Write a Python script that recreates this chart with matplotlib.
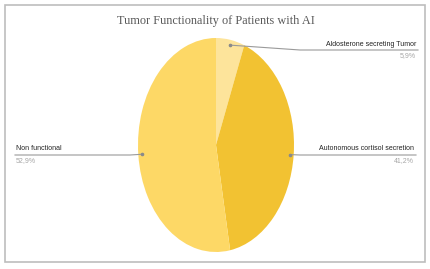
import numpy as np
import matplotlib
matplotlib.use("Agg")
import matplotlib.pyplot as plt
from matplotlib.patches import Rectangle
from matplotlib.lines import Line2D

labels = ["Aldosterone secreting Tumor", "Autonomous cortisol secretion", "Non functional"]
values = [5.9, 41.2, 52.9]
pct_labels = ["5,9%", "41,2%", "52,9%"]
colors = ["#FDE49B", "#F2C232", "#FDD866"]

W, H = 431, 269
fig = plt.figure(figsize=(W / 100, H / 100), dpi=100)

# outer frame
fig.patches.append(Rectangle((5 / W, 1 - 262 / H), 420 / W, 257 / H,
                             transform=fig.transFigure, fill=False,
                             edgecolor="#BDBDBD", linewidth=1.2))

fig.text(216 / W, 1 - 21 / H, "Tumor Functionality of Patients with AI",
         ha="center", va="center", fontsize=8.8, color="#595959",
         family=["Liberation Serif", "DejaVu Serif"])

# pie is squashed horizontally in the reference, so no equal aspect
ax = fig.add_axes([138 / W, 1 - 252 / H, 156 / W, 214 / H])
wedges, _ = ax.pie(values, colors=colors, startangle=90, counterclock=False,
                   wedgeprops=dict(linewidth=0))
ax.set_xlim(-1, 1)
ax.set_ylim(-1, 1)
ax.set_aspect("auto")

# label positions (pixels): elbow x, label y, line end x, alignment
label_pos = [
    (300, 50, 418, "right"),
    (300, 155, 416, "right"),
    (130, 155, 15, "left"),
]

to_fig = ax.transData + fig.transFigure.inverted()
lab_font = ["Liberation Sans", "DejaVu Sans"]
for w, lab, pct, (ex, ly, tx, al) in zip(wedges, labels, pct_labels, label_pos):
    ang = np.deg2rad((w.theta1 + w.theta2) / 2)
    ax_pt = to_fig.transform((0.95 * np.cos(ang), 0.95 * np.sin(ang)))
    ly_f = 1 - ly / H
    xs = [ax_pt[0], ex / W, tx / W]
    ys = [ax_pt[1], ly_f, ly_f]
    fig.lines.append(Line2D(xs, ys, transform=fig.transFigure,
                            color="#9A9A9A", linewidth=0.8))
    fig.lines.append(Line2D([ax_pt[0]], [ax_pt[1]], transform=fig.transFigure,
                            marker="o", markersize=1.6, color="#8A8A8A"))
    tx_in = (tx - 2) / W if al == "right" else (tx + 1) / W
    fig.text(tx_in, ly_f + 6 / H, lab, ha=al, va="center", fontsize=5,
             color="#222222", family=lab_font)
    fig.text(tx_in, ly_f - 6 / H, pct, ha=al, va="center", fontsize=5,
             color="#A6A6A6", family=lab_font)

fig.savefig("out.png", dpi=100)
